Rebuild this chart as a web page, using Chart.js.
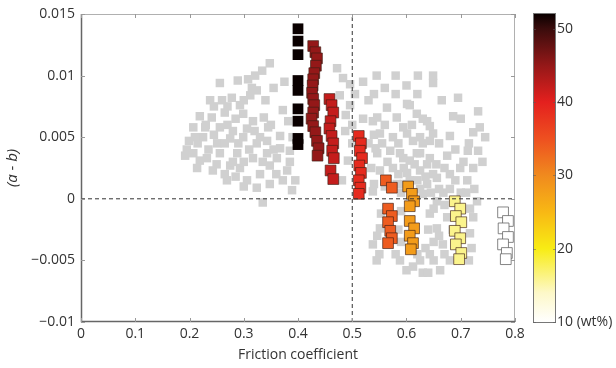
<!DOCTYPE html>
<html>
<head>
<meta charset="utf-8">
<script src="https://cdn.jsdelivr.net/npm/chart.js"></script>
<style>
  html, body { margin: 0; padding: 0; background: #fff; }
  #wrap { width: 616px; height: 368px; }
</style>
</head>
<body>
<div id="wrap"><canvas id="chart" width="616" height="368"></canvas></div>
<script>
// axis ticks
const xTicks = [0, 0.1, 0.2, 0.3, 0.4, 0.5, 0.6, 0.7, 0.8];
const yTicks = [-0.01, -0.005, 0, 0.005, 0.01, 0.015];
const cbTicks = [10, 20, 30, 40, 50];

// gray background points (friction, a-b)
const grayX = [
  0.348, 0.334, 0.321, 0.308, 0.289, 0.256, 0.324, 0.312, 0.238, 0.260, 0.278, 0.293,
  0.219, 0.241, 0.265, 0.299, 0.317, 0.337, 0.207, 0.229, 0.256, 0.280, 0.306, 0.345,
  0.199, 0.225, 0.251, 0.275, 0.299, 0.324, 0.343, 0.207, 0.232, 0.256, 0.288, 0.317,
  0.343, 0.361, 0.214, 0.243, 0.293, 0.330, 0.306, 0.269, 0.324, 0.348, 0.372, 0.367,
  0.367, 0.335, 0.382, 0.385, 0.380, 0.389, 0.192, 0.219, 0.275, 0.348, 0.372,
  0.215, 0.235, 0.245, 0.265, 0.270, 0.285, 0.290, 0.300, 0.310, 0.320, 0.330, 0.335,
  0.355, 0.360, 0.350, 0.280, 0.265, 0.250, 0.230, 0.245, 0.270, 0.300, 0.315, 0.340,
  0.355, 0.375, 0.390, 0.385, 0.395, 0.300, 0.285, 0.210, 0.195,
  0.472, 0.483, 0.496, 0.477, 0.496, 0.487, 0.492, 0.481, 0.488,
  0.538, 0.564, 0.582, 0.601, 0.619, 0.638, 0.551, 0.575, 0.601, 0.625, 0.649,
  0.546, 0.570, 0.594, 0.619, 0.643, 0.551, 0.575, 0.601, 0.625, 0.649, 0.582,
  0.606, 0.638, 0.538, 0.649, 0.621, 0.695, 0.606, 0.732, 0.630, 0.546, 0.643,
  0.594, 0.723, 0.680, 0.612, 0.643, 0.713, 0.732, 0.675, 0.625, 0.588, 0.543,
  0.606, 0.638, 0.699, 0.680, 0.723, 0.656, 0.712, 0.630, 0.656, 0.643, 0.656,
  0.723, 0.717, 0.667, 0.643, 0.625, 0.662, 0.588, 0.538, 0.551, 0.553, 0.546,
  0.650, 0.668, 0.675, 0.660, 0.640, 0.735, 0.686, 0.717, 0.730, 0.700, 0.612,
  0.630, 0.680, 0.560, 0.590, 0.625, 0.700, 0.690, 0.660, 0.560, 0.520, 0.530,
  0.560, 0.600, 0.649,
  0.530, 0.540, 0.555, 0.565, 0.585, 0.595, 0.610, 0.615, 0.630, 0.635, 0.655, 0.660,
  0.670, 0.680, 0.690, 0.705, 0.715, 0.725, 0.535, 0.540, 0.585, 0.595, 0.620, 0.645,
  0.670, 0.685, 0.650, 0.635, 0.620, 0.650, 0.670, 0.640, 0.600, 0.580, 0.550, 0.545,
  0.590, 0.585, 0.590, 0.720, 0.715, 0.710, 0.500, 0.500, 0.505, 0.520, 0.540, 0.580,
  0.620, 0.665, 0.700, 0.745, 0.740, 0.545, 0.580
];
const grayY = [
  0.0110, 0.0104, 0.0100, 0.0097, 0.0096, 0.0094, 0.0088, 0.0084, 0.0080, 0.0080, 0.0082, 0.0076,
  0.0067, 0.0066, 0.0070, 0.0069, 0.0063, 0.0066, 0.0058, 0.0058, 0.0058, 0.0055, 0.0057, 0.0058,
  0.0047, 0.0050, 0.0045, 0.0049, 0.0050, 0.0045, 0.0047, 0.0037, 0.0033, 0.0037, 0.0037, 0.0033,
  0.0037, 0.0033, 0.0025, 0.0023, 0.0025, 0.0020, 0.0015, 0.0015, 0.0009, 0.0012, 0.0015, 0.0051,
  0.0041, -0.0003, 0.0063, 0.0039, 0.0023, 0.0007, 0.0035, 0.0031, 0.0027, 0.0027, 0.0072,
  0.0045, 0.0040, 0.0052, 0.0045, 0.0060, 0.0065, 0.0045, 0.0030, 0.0040, 0.0055, 0.0050, 0.0030,
  0.0040, 0.0020, 0.0060, 0.0030, 0.0020, 0.0028, 0.0060, 0.0075, 0.0075, 0.0080, 0.0090, 0.0080,
  0.0090, 0.0095, 0.0050, 0.0030, 0.0015, 0.0010, 0.0018, 0.0050, 0.0040,
  0.0106, 0.0098, 0.0093, 0.0084, 0.0076, 0.0055, 0.0031, 0.0015, 0.0068,
  0.0063, 0.0074, 0.0066, 0.0077, 0.0069, 0.0063, 0.0053, 0.0050, 0.0053, 0.0050, 0.0053,
  0.0037, 0.0039, 0.0033, 0.0037, 0.0033, 0.0023, 0.0025, 0.0021, 0.0023, 0.0020, 0.0012,
  0.0015, 0.0012, 0.0006, 0.0100, 0.0100, 0.0082, 0.0076, 0.0071, 0.0065, 0.0066, 0.0059,
  0.0058, 0.0054, 0.0051, 0.0047, 0.0047, 0.0039, 0.0039, 0.0035, 0.0037, 0.0037, 0.0041,
  0.0031, 0.0028, 0.0025, 0.0020, 0.0025, 0.0017, 0.0015, 0.0004, -0.0002, -0.0012, -0.0024,
  -0.0015, -0.0028, -0.0037, -0.0045, -0.0050, -0.0058, -0.0050, -0.0037, -0.0024, -0.0012, -0.0030,
  -0.0008, 0.0005, -0.0015, -0.0030, -0.0025, 0.0058, 0.0067, -0.0008, -0.0002, -0.0045, -0.0055,
  -0.0060, -0.0050, 0.0010, 0.0005, 0.0008, 0.0005, 0.0040, 0.0045, 0.0060, 0.0065, 0.0080,
  0.0090, 0.0092, 0.0094,
  0.0045, 0.0052, 0.0045, 0.0030, 0.0045, 0.0025, 0.0060, 0.0028, 0.0045, 0.0018, 0.0028, 0.0008,
  0.0025, 0.0008, 0.0015, 0.0030, 0.0045, 0.0008, 0.0025, 0.0012, 0.0020, 0.0012, 0.0015, 0.0005,
  -0.0005, -0.0025, -0.0035, -0.0040, -0.0045, -0.0050, -0.0045, -0.0060, -0.0058, -0.0045, -0.0045, -0.0050,
  -0.0010, -0.0025, -0.0035, -0.0040, -0.0050, 0.0005, 0.0060, 0.0045, 0.0085, 0.0095, 0.0085, 0.0085,
  0.0085, 0.0080, 0.0065, 0.0050, 0.0030, 0.0100, 0.0100
];

// coloured groups: clay content (wt%) and their points
const groupWt = [52, 45, 42, 39, 34, 28, 16, 10];
const groupX = [
  [0.400, 0.400, 0.400, 0.400, 0.400, 0.400, 0.400, 0.400, 0.400],
  [0.428, 0.432, 0.435, 0.433, 0.430, 0.428, 0.427, 0.426, 0.428, 0.430, 0.428, 0.425, 0.428, 0.432, 0.435, 0.438, 0.436],
  [0.458, 0.462, 0.465, 0.460, 0.458, 0.462, 0.465, 0.463, 0.466, 0.460, 0.465],
  [0.512, 0.516, 0.514, 0.518, 0.513, 0.516, 0.512, 0.515, 0.512],
  [0.562, 0.573, 0.566, 0.573, 0.566, 0.570, 0.573, 0.566],
  [0.603, 0.610, 0.614, 0.606, 0.606, 0.614, 0.606, 0.612, 0.608],
  [0.689, 0.699, 0.691, 0.701, 0.689, 0.699, 0.691, 0.701, 0.697],
  [0.778, 0.787, 0.779, 0.787, 0.778, 0.785, 0.783]
];
const groupY = [
  [0.0138, 0.0128, 0.0117, 0.0096, 0.0088, 0.0073, 0.0063, 0.0049, 0.0044],
  [0.0124, 0.0119, 0.0114, 0.0108, 0.0102, 0.0097, 0.0092, 0.0086, 0.0081, 0.0076, 0.0070, 0.0065, 0.0059, 0.0054, 0.0047, 0.0041, 0.0035],
  [0.0081, 0.0076, 0.0070, 0.0063, 0.0057, 0.0051, 0.0045, 0.0039, 0.0033, 0.0023, 0.0016],
  [0.0051, 0.0045, 0.0039, 0.0033, 0.0027, 0.0021, 0.0015, 0.0009, 0.0004],
  [0.0015, 0.0009, -0.0008, -0.0014, -0.0019, -0.0026, -0.0032, -0.0036],
  [0.0010, 0.0004, -0.0002, -0.0006, -0.0018, -0.0024, -0.0030, -0.0036, -0.0041],
  [-0.0002, -0.0008, -0.0014, -0.0019, -0.0026, -0.0032, -0.0037, -0.0044, -0.0049],
  [-0.0011, -0.0018, -0.0024, -0.0031, -0.0037, -0.0044, -0.0049]
];

// reference lines
const refX = 0.5;
const refY = 0;

// colour map (reversed "hot")
const cmapStops = [
  [10, '#ffffff'], [14, '#fdf8c8'], [20, '#f8ec14'], [25, '#f8b814'], [30, '#f08a1e'],
  [35, '#ee5020'], [40, '#e4201e'], [45, '#941818'], [50, '#3a0c0c'], [52, '#0a0000']
];

function hexRgb(h) {
  return [1, 3, 5].map(i => parseInt(h.substr(i, 2), 16));
}
function cmap(v) {
  for (let i = 1; i < cmapStops.length; i++) {
    const [v1, c1] = cmapStops[i];
    const [v0, c0] = cmapStops[i - 1];
    if (v <= v1) {
      const t = Math.max(0, (v - v0) / (v1 - v0));
      const a = hexRgb(c0), b = hexRgb(c1);
      const c = a.map((x, k) => Math.round(x + (b[k] - x) * t));
      return `rgb(${c[0]},${c[1]},${c[2]})`;
    }
  }
  return cmapStops[cmapStops.length - 1][1];
}

const fmt = (v, d) => String(+v.toFixed(d)).replace('-', '\u2212');

const datasets = [];
datasets.push({
  label: 'all',
  data: grayX.map((x, i) => ({ x, y: grayY[i] })),
  pointStyle: 'rect',
  pointRadius: 6,
  backgroundColor: '#d0d0d0',
  borderWidth: 0,
  order: 20
});
groupWt.forEach((w, g) => {
  datasets.push({
    label: w + ' wt%',
    data: groupX[g].map((x, i) => ({ x, y: groupY[g][i] })),
    pointStyle: 'rect',
    pointRadius: 7.6,
    backgroundColor: cmap(w),
    borderColor: w >= 50 ? cmap(w) : (w <= 12 ? '#666' : 'rgba(60,30,20,0.8)'),
    borderWidth: w >= 50 ? 0 : 0.8,
    order: 2 + g
  });
});
datasets.push({
  label: 'vline',
  data: [{ x: refX, y: -0.01 }, { x: refX, y: 0.015 }],
  showLine: true, pointRadius: 0, borderColor: '#333', borderWidth: 1, borderDash: [4, 3], order: 0
});
datasets.push({
  label: 'hline',
  data: [{ x: 0, y: refY }, { x: 0.8, y: refY }],
  showLine: true, pointRadius: 0, borderColor: '#333', borderWidth: 1, borderDash: [4, 3], order: 0
});

const framePlugin = {
  id: 'frame',
  afterDraw(chart) {
    const { ctx, chartArea: a, scales } = chart;
    ctx.save();
    // colour bar
    const cb = scales.cb;
    const x0 = a.right + 18, w = 23;
    const top = cb.getPixelForValue(52), bot = cb.getPixelForValue(10);
    const grad = ctx.createLinearGradient(0, bot, 0, top);
    cmapStops.forEach(([v, c]) => grad.addColorStop((v - 10) / 42, c));
    ctx.fillStyle = grad;
    ctx.fillRect(x0, top - 1, w, bot - top + 2);
    ctx.strokeStyle = '#777';
    ctx.lineWidth = 1;
    ctx.strokeRect(x0 + 0.5, top - 0.5, w - 1, bot - top + 1);
    cbTicks.forEach(v => {
      const y = Math.round(cb.getPixelForValue(v)) + 0.5;
      ctx.beginPath();
      ctx.moveTo(x0, y); ctx.lineTo(x0 + 3, y);
      ctx.moveTo(x0 + w, y); ctx.lineTo(x0 + w - 3, y);
      ctx.strokeStyle = 'rgba(90,90,90,0.5)';
      ctx.stroke();
    });
    // plot frame
    ctx.strokeStyle = '#b0b0b0';
    ctx.lineWidth = 1;
    ctx.beginPath();
    ctx.moveTo(a.left, a.top + 0.5); ctx.lineTo(a.right - 0.5, a.top + 0.5); ctx.lineTo(a.right - 0.5, a.bottom);
    ctx.stroke();
    ctx.strokeStyle = '#666';
    ctx.lineWidth = 1.5;
    ctx.beginPath();
    ctx.moveTo(a.left + 0.5, a.top); ctx.lineTo(a.left + 0.5, a.bottom - 0.5); ctx.lineTo(a.right, a.bottom - 0.5);
    ctx.stroke();
    // inward ticks
    ctx.strokeStyle = '#999';
    ctx.lineWidth = 1;
    ctx.beginPath();
    xTicks.forEach(v => {
      const x = Math.round(scales.x.getPixelForValue(v)) + 0.5;
      ctx.moveTo(x, a.bottom); ctx.lineTo(x, a.bottom - 4);
      ctx.moveTo(x, a.top); ctx.lineTo(x, a.top + 4);
    });
    yTicks.forEach(v => {
      const y = Math.round(scales.y.getPixelForValue(v)) + 0.5;
      ctx.moveTo(a.left, y); ctx.lineTo(a.left + 4, y);
      ctx.moveTo(a.right, y); ctx.lineTo(a.right - 4, y);
    });
    ctx.stroke();
    ctx.restore();
  }
};

const tickFont = { family: 'Open Sans', size: 14 };
const noPad = s => { s.paddingTop = 0; s.paddingBottom = 0; s.paddingLeft = 0; s.paddingRight = 0; };

new Chart(document.getElementById('chart'), {
  type: 'scatter',
  data: { datasets },
  options: {
    responsive: false,
    animation: false,
    events: [],
    layout: { autoPadding: false, padding: { top: 14, left: 0, right: 0, bottom: 0 } },
    plugins: { legend: { display: false }, tooltip: { enabled: false } },
    scales: {
      x: {
        type: 'linear', min: 0, max: 0.8,
        afterFit: s => { s.height = 46; noPad(s); },
        afterBuildTicks: s => { s.ticks = xTicks.map(value => ({ value })); },
        grid: { display: false, drawTicks: false },
        border: { display: false },
        ticks: { color: '#333', font: tickFont, padding: 4, callback: v => fmt(v, 1) },
        title: { display: true, text: 'Friction coefficient', color: '#333', font: { family: 'Open Sans', size: 14 }, padding: { top: 0, bottom: 5 } }
      },
      y: {
        type: 'linear', min: -0.01, max: 0.015,
        afterFit: s => { s.width = 81; noPad(s); },
        afterBuildTicks: s => { s.ticks = yTicks.map(value => ({ value })); },
        grid: { display: false, drawTicks: false },
        border: { display: false },
        ticks: { color: '#333', font: tickFont, padding: 6, callback: v => fmt(v, 3) },
        title: { display: true, text: '(a - b)', color: '#333', font: { family: 'Open Sans', size: 15, style: 'italic' }, padding: { top: 4, bottom: 0 } }
      },
      cb: {
        type: 'linear', position: 'right', min: 10, max: 52,
        afterFit: s => { s.width = 101; noPad(s); },
        afterBuildTicks: s => { s.ticks = cbTicks.map(value => ({ value })); },
        grid: { display: false, drawTicks: false },
        border: { display: false },
        ticks: { color: '#333', font: tickFont, padding: 42, callback: v => v === 10 ? '10 (wt%)' : String(v) }
      }
    }
  },
  plugins: [framePlugin]
});
</script>
</body>
</html>
